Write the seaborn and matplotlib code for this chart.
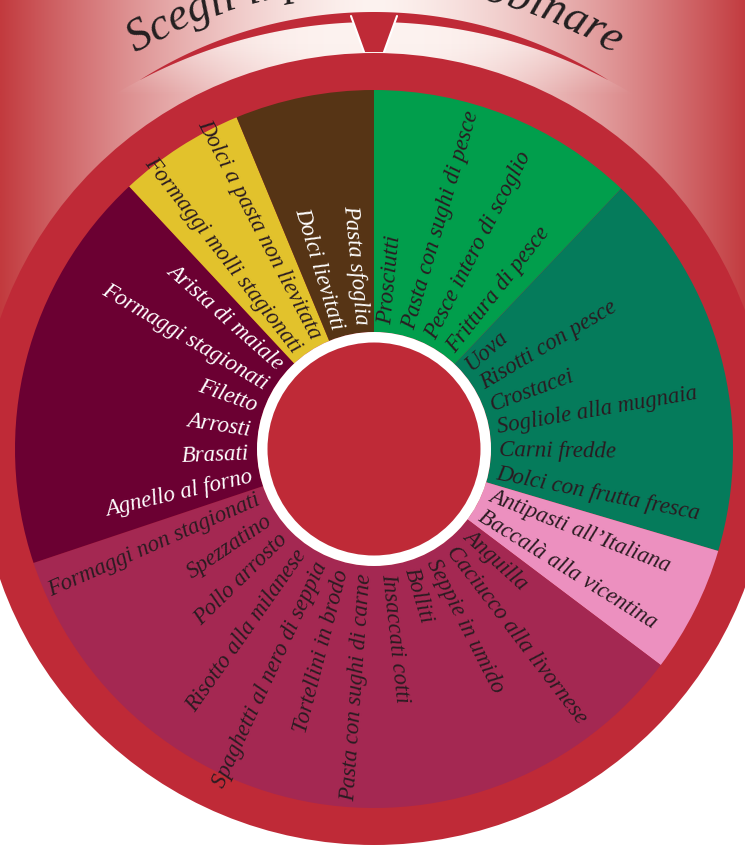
import numpy as np
import matplotlib
matplotlib.use("Agg")
import matplotlib.pyplot as plt
import seaborn as sns
from matplotlib.patches import Circle, Polygon
from matplotlib.font_manager import FontProperties

# -------------------------------
# Data (sectors clockwise from 12 o'clock)
# -------------------------------
title = "Scegli il piatto da abbinare"

sector_degrees = [43.5, 63.0, 20.5, 124.5, 65.5, 20.5, 22.5]
sector_colors = ["#019E4C", "#057B5B", "#EC90BF", "#A42852", "#6B0032", "#E2C22C", "#563415"]
label_colors = ["#2A1B21", "#2A1B21", "#2A1B21", "#2A1B21", "#FFFFFF", "#2A1B21", "#FFFFFF"]

green_labels = ["Prosciutti", "Pasta con sughi di pesce", "Pesce intero di scoglio", "Frittura di pesce"]
teal_labels = ["Uova", "Risotti con pesce", "Crostacei", "Sogliole alla mugnaia",
               "Carni fredde", "Dolci con frutta fresca"]
pink_labels = ["Antipasti all\u2019Italiana", "Baccalà alla vicentina"]
wine_labels = ["Anguilla", "Caciucco alla livornese", "Seppie in umido", "Bolliti",
               "Insaccati cotti", "Pasta con sughi di carne", "Tortellini in brodo",
               "Spaghetti al nero di seppia", "Risotto alla milanese", "Pollo arrosto",
               "Spezzatino", "Formaggi non stagionati"]
maroon_labels = ["Agnello al forno", "Brasati", "Arrosti", "Filetto",
                 "Formaggi stagionati", "Arista di maiale"]
yellow_labels = ["Formaggi molli stagionati", "Dolci a pasta non lievitata"]
brown_labels = ["Dolci lievitati", "Pasta sfoglia"]
sector_labels = [green_labels, teal_labels, pink_labels, wine_labels,
                 maroon_labels, yellow_labels, brown_labels]

# -------------------------------
# Layout
# -------------------------------
W, H = 745, 846
CX, CY = 374, H - 449
R_RING, R_OUT, R_IN, R_WHITE, R_HUB = 396, 359, 117, 117, 106.5
RED = "#BF2A37"
FONT = "Liberation Serif"

sns.set_theme(style="white")
plt.rcParams["font.family"] = [FONT, "DejaVu Serif"]

fig = plt.figure(figsize=(W / 100, H / 100), dpi=100)
ax = fig.add_axes([0, 0, 1, 1])

# background gradient band (top half)
xs = np.linspace(0, W, 600)
t = np.clip(np.abs(xs - CX) / CX, 0, 1)
red_rgb = np.array(matplotlib.colors.to_rgb("#C23A3E"))
white_rgb = np.array(matplotlib.colors.to_rgb("#FDF3F0"))


def band(power, rows=4):
    m = (t ** power)[:, None]
    row = white_rgb * (1 - m) + red_rgb * m
    return np.repeat(row[None, :, :], rows, axis=0)


ax.imshow(band(1.5), extent=[0, W, CY, H], aspect="auto", zorder=0)

# lighter area under the crescent, fading out downwards
rows = 200
light = band(2.6, rows)
ypic = np.linspace(0, 449, rows)
alpha = np.clip(1 - (ypic - 45) / 50, 0, 1)[:, None, None]
light = np.concatenate([light, np.repeat(alpha, light.shape[1], axis=1)], axis=2)
lighter = ax.imshow(light, extent=[0, W, CY, H], aspect="auto", zorder=0.5)
c2y, c2r = H - 523, 501
lighter.set_clip_path(Circle((CX, c2y), c2r, transform=ax.transData))

# crescent between two circles
c1r = 437
a1 = np.radians(np.linspace(57.6, 122.4, 120))
a2 = np.radians(np.linspace(117.8, 62.2, 120))
pts = np.vstack([np.c_[CX + c1r * np.cos(a1), CY + c1r * np.sin(a1)],
                 np.c_[CX + c2r * np.cos(a2), c2y + c2r * np.sin(a2)]])
ax.add_patch(Polygon(pts, closed=True, fc=RED, ec="none", zorder=1))

# notch with white edges on its slanted sides
notch = [(351, H - 16), (397, H - 16), (384, H - 52), (364, H - 52)]
ax.add_patch(Polygon(notch, closed=True, fc=RED, ec="none", zorder=1.2))
ax.plot([351, 364], [H - 16, H - 52], color="white", lw=1.5, zorder=1.3)
ax.plot([397, 384], [H - 16, H - 52], color="white", lw=1.5, zorder=1.3)

# outer ring
ax.add_patch(Circle((CX, CY), R_RING, fc=RED, ec="none", zorder=2))

# donut sectors
wedges, _ = ax.pie(sector_degrees, colors=sector_colors, startangle=90, counterclock=False,
                   radius=R_OUT, center=(CX, CY),
                   wedgeprops=dict(width=R_OUT - R_IN, linewidth=0))
for w in wedges:
    w.set_zorder(3)

ax.add_patch(Circle((CX, CY), R_WHITE, fc="white", ec="none", zorder=4))
ax.add_patch(Circle((CX, CY), R_HUB, fc=RED, ec="none", zorder=5))

# sector labels, radial
r0 = 125
start = 0.0
for size, labels, col in zip(sector_degrees, sector_labels, label_colors):
    n = len(labels)
    for i, lab in enumerate(labels):
        th = start + (i + 0.5) * size / n
        rad = np.radians(th)
        x, y = CX + r0 * np.sin(rad), CY + r0 * np.cos(rad)
        if th <= 180:
            rot, ha = 90 - th, "left"
        else:
            rot, ha = 270 - th, "right"
        ax.text(x, y, lab, rotation=rot, rotation_mode="anchor", ha=ha, va="center",
                fontsize=16.5, style="italic", color=col, zorder=6)
    start += size

# title along an arc
renderer = fig.canvas.get_renderer()
tfs = 33
prop = FontProperties(family=FONT, style="italic", size=tfs)


def tw(s):
    w, h, d = renderer.get_text_width_height_descent(s, prop, ismath=False)
    return w


R_T = 462
span = np.radians(62) * R_T
total = tw(title)
squeeze = span / total
xw = tw("x")
for i, ch in enumerate(title):
    if ch == " ":
        continue
    left = tw(title[:i] + "x") - xw if i > 0 else 0
    cw = tw(ch)
    s = (left + cw / 2 - total / 2) * squeeze
    phi = s / R_T
    x, y = CX + R_T * np.sin(phi), CY + R_T * np.cos(phi)
    ax.text(x, y, ch, rotation=-np.degrees(phi), rotation_mode="anchor", ha="center",
            va="baseline", fontproperties=prop, color="#231F20", zorder=7)

ax.set_xlim(0, W)
ax.set_ylim(0, H)
ax.set_aspect("equal")
ax.axis("off")
fig.savefig("out.png", dpi=100, facecolor="white")
